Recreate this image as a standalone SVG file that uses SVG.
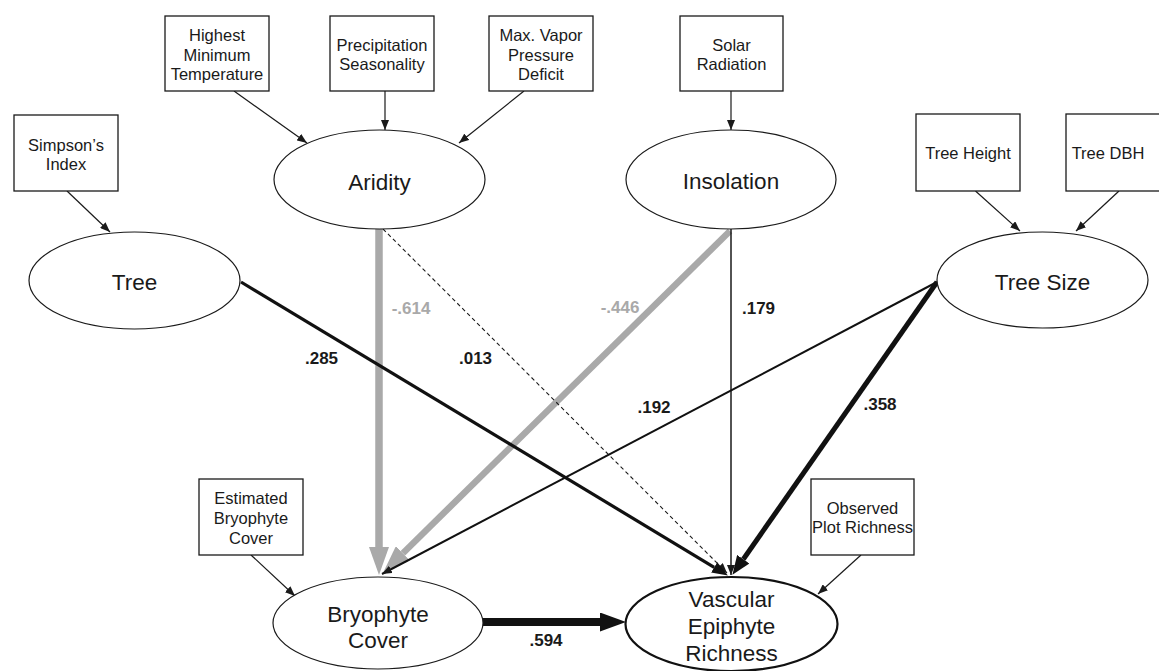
<svg xmlns="http://www.w3.org/2000/svg" width="1159" height="671" viewBox="0 0 1159 671">
<style>
  text { font-family: "Liberation Sans", Arial, sans-serif; fill: #1a1a1a; text-anchor: middle; }
  .box { fill: #fff; stroke: #1a1a1a; stroke-width: 1.3; }
  .ell { fill: #fff; stroke: #1a1a1a; stroke-width: 1.2; }
  .ell2 { fill: #fff; stroke: #111; stroke-width: 2.2; }
  .bt { font-size: 16.5px; }
  .et { font-size: 22.5px; }
  .lab { font-size: 17px; font-weight: bold; }
  .glab { font-size: 17px; font-weight: bold; fill: #a9a9a9; }
  .thin { stroke: #1a1a1a; stroke-width: 1.2; fill: none; }
</style>
<defs>
  <marker id="as" markerUnits="userSpaceOnUse" markerWidth="10" markerHeight="8" refX="10" refY="4" orient="auto">
    <path d="M0,0 L10,4 L0,8 z" fill="#1a1a1a"/>
  </marker>
  <marker id="am" markerUnits="userSpaceOnUse" markerWidth="16" markerHeight="12" refX="0" refY="6" orient="auto">
    <path d="M0,0 L16,6 L0,12 z" fill="#111"/>
  </marker>
  <marker id="al" markerUnits="userSpaceOnUse" markerWidth="19" markerHeight="15" refX="0" refY="7.5" orient="auto">
    <path d="M0,0 L19,7.5 L0,15 z" fill="#111"/>
  </marker>
  <marker id="ab" markerUnits="userSpaceOnUse" markerWidth="26" markerHeight="19" refX="0" refY="9.5" orient="auto">
    <path d="M0,0 L26,9.5 L0,19 z" fill="#111"/>
  </marker>
  <marker id="ag" markerUnits="userSpaceOnUse" markerWidth="28" markerHeight="20" refX="0" refY="10" orient="auto">
    <path d="M0,0 L28,10 L0,20 z" fill="#a9a9a9"/>
  </marker>
</defs>

<g id="connectors">
  <!-- indicators -->
  <line class="thin" x1="234" y1="91" x2="307" y2="143" marker-end="url(#as)"/>
  <line class="thin" x1="385" y1="91" x2="385" y2="130" marker-end="url(#as)"/>
  <line class="thin" x1="524" y1="91" x2="459" y2="143" marker-end="url(#as)"/>
  <line class="thin" x1="731" y1="91" x2="731" y2="130" marker-end="url(#as)"/>
  <line class="thin" x1="67" y1="191" x2="110" y2="232" marker-end="url(#as)"/>
  <line class="thin" x1="975.5" y1="191" x2="1020" y2="231" marker-end="url(#as)"/>
  <line class="thin" x1="1119" y1="191" x2="1076" y2="231" marker-end="url(#as)"/>
  <line class="thin" x1="251" y1="555" x2="295" y2="596" marker-end="url(#as)"/>
  <line class="thin" x1="861" y1="555" x2="818" y2="594" marker-end="url(#as)"/>
  <!-- structural paths -->
  <line x1="379" y1="229" x2="379" y2="547" stroke="#a9a9a9" stroke-width="7.5" marker-end="url(#ag)"/>
  <line x1="730" y1="231" x2="402.9" y2="553.3" stroke="#a9a9a9" stroke-width="6.5" marker-end="url(#ag)"/>
  <line x1="383" y1="229" x2="727" y2="573" stroke="#1a1a1a" stroke-width="1.1" stroke-dasharray="4,3" marker-end="url(#as)"/>
  <line x1="731" y1="229" x2="731" y2="575" stroke="#1a1a1a" stroke-width="1.5" marker-end="url(#as)"/>
  <line x1="241" y1="282" x2="714.2" y2="567.3" stroke="#111" stroke-width="3.2" marker-end="url(#am)"/>
  <line x1="937" y1="282" x2="382" y2="574" stroke="#111" stroke-width="2" marker-end="url(#as)"/>
  <line x1="937" y1="282" x2="743.3" y2="559.2" stroke="#111" stroke-width="5" marker-end="url(#al)"/>
  <line x1="483" y1="622" x2="600" y2="622" stroke="#111" stroke-width="8" marker-end="url(#ab)"/>
</g>

<g id="labels">
  <text class="glab" x="411" y="314">-.614</text>
  <text class="glab" x="620" y="313">-.446</text>
  <text class="lab" x="758.5" y="314">.179</text>
  <text class="lab" x="321.5" y="364">.285</text>
  <text class="lab" x="475.5" y="364">.013</text>
  <text class="lab" x="654" y="413">.192</text>
  <text class="lab" x="880" y="410">.358</text>
  <text class="lab" x="546" y="646">.594</text>
</g>

<g id="hmt">
  <rect class="box" x="165" y="16" width="104" height="75"/>
  <text class="bt" x="217" y="41">Highest</text>
  <text class="bt" x="217" y="60.5">Minimum</text>
  <text class="bt" x="217" y="80">Temperature</text>
</g>
<g id="precip">
  <rect class="box" x="330" y="16" width="104" height="75"/>
  <text class="bt" x="382" y="51">Precipitation</text>
  <text class="bt" x="382" y="70">Seasonality</text>
</g>
<g id="vpd">
  <rect class="box" x="489" y="16" width="104" height="75"/>
  <text class="bt" x="541" y="41">Max. Vapor</text>
  <text class="bt" x="541" y="60.5">Pressure</text>
  <text class="bt" x="541" y="80">Deficit</text>
</g>
<g id="solar">
  <rect class="box" x="680" y="16" width="103" height="75"/>
  <text class="bt" x="731.5" y="51">Solar</text>
  <text class="bt" x="731.5" y="70">Radiation</text>
</g>
<g id="simpson">
  <rect class="box" x="14" y="115" width="104" height="76"/>
  <text class="bt" x="66" y="151">Simpson’s</text>
  <text class="bt" x="66" y="170">Index</text>
</g>
<g id="treeheight">
  <rect class="box" x="916" y="114" width="104" height="77"/>
  <text class="bt" x="968" y="159">Tree Height</text>
</g>
<g id="treedbh">
  <rect class="box" x="1066" y="114" width="104" height="77"/>
  <text class="bt" x="1108" y="159">Tree DBH</text>
</g>
<g id="estbryo">
  <rect class="box" x="199" y="479" width="104" height="76"/>
  <text class="bt" x="251" y="504">Estimated</text>
  <text class="bt" x="251" y="524">Bryophyte</text>
  <text class="bt" x="251" y="544">Cover</text>
</g>
<g id="obsrich">
  <rect class="box" x="811" y="479" width="103" height="76"/>
  <text class="bt" x="862.5" y="514">Observed</text>
  <text class="bt" x="862.5" y="533">Plot Richness</text>
</g>

<g id="aridity">
  <ellipse class="ell" cx="379.5" cy="179.5" rx="105.5" ry="49.5"/>
  <text class="et" x="379.5" y="190">Aridity</text>
</g>
<g id="insolation">
  <ellipse class="ell" cx="731" cy="179.5" rx="105" ry="49.5"/>
  <text class="et" x="731" y="189">Insolation</text>
</g>
<g id="tree">
  <ellipse class="ell" cx="134.5" cy="280.5" rx="105.5" ry="48.5"/>
  <text class="et" x="134.5" y="290">Tree</text>
</g>
<g id="treesize">
  <ellipse class="ell" cx="1042.5" cy="280" rx="105.5" ry="48"/>
  <text class="et" x="1042.5" y="290">Tree Size</text>
</g>
<g id="bryophyte">
  <ellipse class="ell" cx="378" cy="623" rx="105" ry="46"/>
  <text class="et" x="378" y="622">Bryophyte</text>
  <text class="et" x="378" y="648">Cover</text>
</g>
<g id="vascular">
  <ellipse class="ell2" cx="731.5" cy="624" rx="106" ry="47"/>
  <text class="et" x="731.5" y="607">Vascular</text>
  <text class="et" x="731.5" y="634">Epiphyte</text>
  <text class="et" x="731.5" y="661">Richness</text>
</g>
</svg>
